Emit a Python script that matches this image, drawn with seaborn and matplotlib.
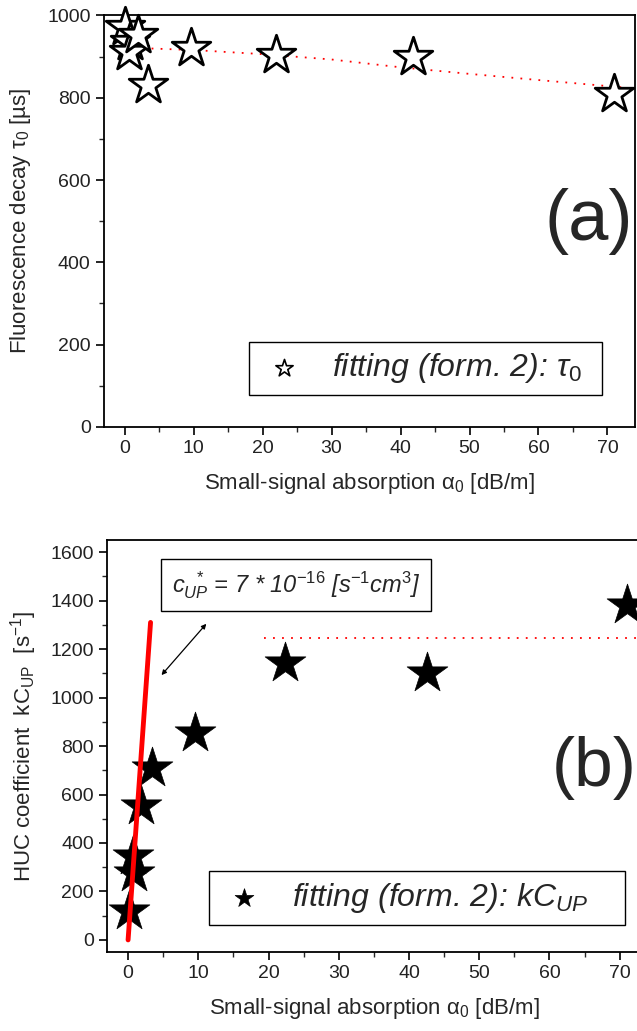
import matplotlib
matplotlib.use("Agg")
import matplotlib.pyplot as plt
import seaborn as sns
import pandas as pd

# panel (a): fluorescence decay tau_0
alpha_a = [0.1, 0.8, 0.6, 1.9, 3.4, 9.6, 22.0, 41.8, 70.9]
tau0 = [973, 935, 912, 953, 831, 920, 904, 898, 808]
fit_a_x = [0, 10, 20, 30, 40, 50, 60, 73]
fit_a_y = [922, 916, 906, 893, 874, 858, 843, 824]

# panel (b): HUC coefficient kC_UP
alpha_b = [0.16, 0.87, 0.64, 1.9, 3.4, 9.6, 22.4, 42.6, 71.1]
kcup = [119, 277, 346, 551, 709, 853, 1141, 1103, 1381]
lin_b_x = [0, 3.2]
lin_b_y = [0, 1310]
sat_b_x = [19.3, 73.5]
sat_b_y = [1244, 1244]

xlabel = r"Small-signal absorption $\mathregular{\alpha_0}$ [dB/m]"

sns.set_style("ticks")
plt.rcParams["font.family"] = ["Liberation Sans", "DejaVu Sans"]
plt.rcParams["mathtext.fontset"] = "custom"
plt.rcParams["mathtext.rm"] = "Liberation Sans"
plt.rcParams["mathtext.it"] = "Liberation Sans:italic"
plt.rcParams["axes.edgecolor"] = "black"
plt.rcParams["axes.linewidth"] = 1.3

fig = plt.figure(figsize=(6.37, 10.31), dpi=100)
ax1 = fig.add_axes([0.163, 0.586, 0.834, 0.399])
ax2 = fig.add_axes([0.168, 0.0766, 0.84, 0.3996])

df_a = pd.DataFrame({"alpha": alpha_a, "tau": tau0})
df_b = pd.DataFrame({"alpha": alpha_b, "kc": kcup})

# --- panel (a)
sns.lineplot(x=fit_a_x, y=fit_a_y, ax=ax1, color="red", linestyle=(0, (1, 4)),
             linewidth=1.3, sort=False, estimator=None)
sns.scatterplot(data=df_a, x="alpha", y="tau", ax=ax1, marker="*", s=850,
                facecolor="white", edgecolor="black", linewidth=2.0,
                label="fitting (form. 2)", zorder=3, clip_on=False)
ax1.set_xlim(-3, 74)
ax1.set_ylim(0, 1000)
ax1.set_xticks(range(0, 71, 10))
ax1.set_xticks(range(5, 71, 10), minor=True)
ax1.set_yticks(range(0, 1001, 200))
ax1.set_yticks(range(100, 1000, 200), minor=True)
ax1.set_xlabel(xlabel, fontsize=16, labelpad=10)
ax1.set_ylabel(r"Fluorescence decay $\mathregular{\tau_0}$ [µs]", fontsize=16, labelpad=10)
ax1.text(0.913, 0.5, "(a)", transform=ax1.transAxes, fontsize=52,
         ha="center", va="center")
h, _ = ax1.get_legend_handles_labels()
leg1 = ax1.legend(h, [r"fitting (form. 2): $\tau_0$  "], loc="center",
                  bbox_to_anchor=(425.5 / 637, 1 - 368.5 / 1031),
                  bbox_transform=fig.transFigure,
                  fancybox=False, framealpha=1, edgecolor="black",
                  prop={"style": "italic", "size": 23},
                  handlelength=1.6, handletextpad=0.7, borderpad=0.3,
                  borderaxespad=0)
leg1.get_frame().set_linewidth(1.0)
for lh in leg1.legend_handles:
    lh.set_sizes([170])
    lh.set_linewidth(1.2)

# --- panel (b)
sns.lineplot(x=sat_b_x, y=sat_b_y, ax=ax2, color="red", linestyle=(0, (1, 4)),
             linewidth=1.3, sort=False, estimator=None)
sns.lineplot(x=lin_b_x, y=lin_b_y, ax=ax2, color="red", linewidth=3.5,
             sort=False, estimator=None, zorder=4)
sns.scatterplot(data=df_b, x="alpha", y="kc", ax=ax2, marker="*", s=950,
                color="black", edgecolor="black", linewidth=0.5,
                label="fitting (form. 2)", zorder=3)
ax2.set_xlim(-3, 73.2)
ax2.set_ylim(-50, 1650)
ax2.set_xticks(range(0, 71, 10))
ax2.set_xticks(range(5, 71, 10), minor=True)
ax2.set_yticks(range(0, 1601, 200))
ax2.set_yticks(range(100, 1600, 200), minor=True)
ax2.set_xlabel(xlabel, fontsize=16, labelpad=10)
ax2.set_ylabel(r"HUC coefficient  kC$_{\mathregular{UP}}$  [s$^{\mathregular{-1}}$]",
               fontsize=16, labelpad=8)
ax2.spines["right"].set_visible(False)
ax2.text(0.91, 0.447, "(b)", transform=ax2.transAxes, fontsize=50,
         ha="center", va="center")
ax2.text(296 / 637, 1 - 585 / 1031,
         r"$c_{UP}^{\ \ *}$ = 7 * 10$^{-16}$ [s$^{-1}$cm$^{3}$]",
         transform=fig.transFigure, fontsize=17, style="italic",
         ha="center", va="center",
         bbox=dict(boxstyle="square,pad=0.45", facecolor="white",
                   edgecolor="black", linewidth=1.0))
ax2.annotate("", xy=(4.5, 1084), xytext=(11.4, 1313),
             arrowprops=dict(arrowstyle="<|-|>", color="black", lw=0.9,
                             mutation_scale=7))
h, _ = ax2.get_legend_handles_labels()
leg2 = ax2.legend(h[-1:], [r"fitting (form. 2): kC$_{UP}$    "], loc="center",
                  bbox_to_anchor=(417 / 637, 1 - 898 / 1031),
                  bbox_transform=fig.transFigure,
                  fancybox=False, framealpha=1, edgecolor="black",
                  prop={"style": "italic", "size": 23},
                  handlelength=1.6, handletextpad=0.7, borderpad=0.3,
                  borderaxespad=0)
leg2.get_frame().set_linewidth(1.0)
for lh in leg2.legend_handles:
    lh.set_sizes([200])

for ax in (ax1, ax2):
    ax.tick_params(which="major", direction="out", length=6, width=1.2,
                   labelsize=14, colors="black")
    ax.tick_params(which="minor", direction="out", length=3.5, width=1.0)
    ax.tick_params(labelcolor="#222222")
    ax.grid(False)

fig.savefig("out.png", dpi=100)
